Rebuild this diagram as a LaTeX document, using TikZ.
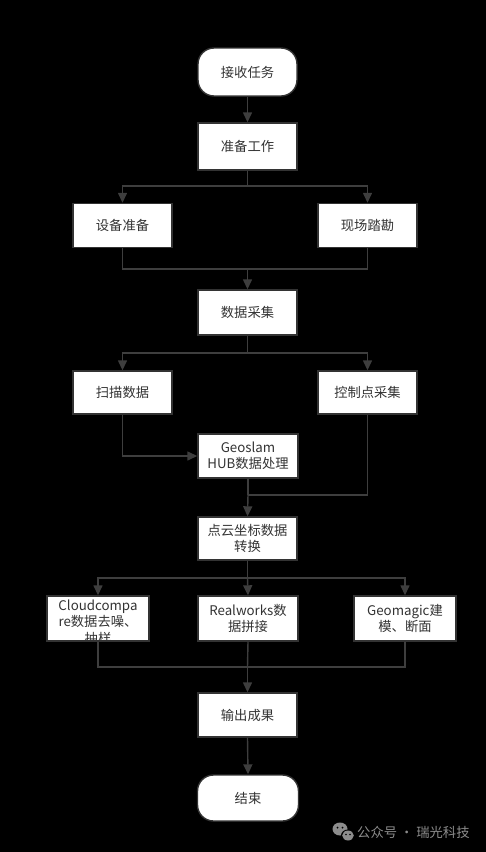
\documentclass[tikz,border=0pt]{standalone}
\usepackage{fontspec}
\setmainfont{Noto Sans CJK SC}
\usetikzlibrary{arrows.meta}
\definecolor{linec}{HTML}{3E3E3E}
\definecolor{edgec}{HTML}{333333}
\definecolor{txtc}{HTML}{333333}
\definecolor{wmc}{HTML}{8C8C8C}
\begin{document}
\begin{tikzpicture}[x=1pt,y=-1pt,
  box/.style={draw=edgec, fill=white, line width=1.4pt, minimum width=99pt, minimum height=45pt,
    inner sep=0pt, align=center, text=txtc, font=\fontsize{13.3}{16}\selectfont},
  term/.style={box, rounded corners=16pt},
  wire/.style={draw=linec, line width=1.4pt},
  conn/.style={wire, -{Triangle[length=10pt,width=9pt]}},
  txt/.style={align=center, text=txtc, font=\fontsize{13.3}{16.5}\selectfont, inner sep=0pt}
]
\fill[black] (0,0) rectangle (486,852);
\useasboundingbox (0,0) rectangle (486,852);

\node[term, minimum height=48pt] (start) at (247.5,72) {接收任务};
\node[box, minimum height=47pt] (prep) at (247.5,146.5) {准备工作};
\node[box, minimum height=44pt] (equip) at (122.5,225.5) {设备准备};
\node[box, minimum height=44pt] (site) at (367.5,225.5) {现场踏勘};
\node[box, minimum height=45pt] (collect) at (247.5,312.5) {数据采集};
\node[box, minimum height=43pt] (scan) at (122.5,392.5) {扫描数据};
\node[box, minimum height=43pt] (ctrl) at (367.5,392.5) {控制点采集};
\node[box, minimum height=44pt, minimum width=100pt] (geo) at (248,456) {Geoslam\\HUB数据处理};
\node[box, minimum height=43pt] (conv) at (247.5,538.5) {点云坐标数据\\转换};
\node[box, minimum height=45pt, minimum width=101pt] (cc) at (98,618.5) {};
\node[box, minimum height=45pt, minimum width=100pt] (rw) at (248,618.5) {Realworks数\\据拼接};
\node[box, minimum height=45pt, minimum width=102pt] (gm) at (405,618.5) {Geomagic建\\模、断面};
\node[box, minimum height=44pt] (out) at (247.5,715) {输出成果};
\node[term, minimum height=46pt, minimum width=101pt] (end) at (248,798) {结束};

\begin{scope}
  \clip (cc.north west) rectangle (cc.south east);
  \node[txt] (cctext) at (98,622) {Cloudcompa\\re数据去噪、\\抽样};
\end{scope}
\draw[edgec, line width=1.4pt] (cc.north west) rectangle (cc.south east);

\coordinate (b1) at (247.5,186);
\coordinate (m1) at (247.5,269);
\coordinate (b2) at (247.5,353);
\coordinate (m3) at (248,495);
\coordinate (b3) at (247.5,578);
\coordinate (m4) at (247.5,667);

\draw[conn] (start) -- (prep);
\draw[wire] (prep.south) -- (b1);
\draw[conn] (b1) -| (equip.north);
\draw[conn] (b1) -| (site.north);
\draw[wire] (equip.south) |- (m1);
\draw[wire] (site.south) |- (m1);
\draw[conn] (m1) -- (collect.north);
\draw[wire] (collect.south) -- (b2);
\draw[conn] (b2) -| (scan.north);
\draw[conn] (b2) -| (ctrl.north);
\draw[conn] (scan.south) |- (geo.west);
\draw[wire] (ctrl.south) |- (m3);
\draw[wire] (geo.south) -- (m3);
\draw[conn] (m3) -- (conv.north);
\draw[wire] (conv.south) -- (b3);
\draw[conn] (b3) -| (cc.north);
\draw[conn] (b3) -- (rw.north);
\draw[conn] (b3) -| (gm.north);
\draw[wire] (cc.south) |- (m4);
\draw[wire] (gm.south) |- (m4);
\draw[wire] (rw.south) -- (m4);
\draw[conn] (m4) -- (out.north);
\draw[conn] (out.south) -- (end.north);

% watermark
\fill[wmc] (340,829) ellipse [x radius=7.5pt, y radius=6.5pt];
\fill[black] (348,835.5) ellipse [x radius=7pt, y radius=6pt];
\fill[wmc] (348,835.5) ellipse [x radius=5.8pt, y radius=5pt];
\fill[black] (337.5,827.5) circle (1pt) (342.5,827.5) circle (1pt);
\fill[black] (346,834.5) circle (0.8pt) (350,834.5) circle (0.8pt);
\node[anchor=west, text=wmc, font=\fontsize{13.3}{15}\selectfont, inner sep=0pt] (wm) at (357,832) {公众号 · 瑞光科技};
\end{tikzpicture}
\end{document}
